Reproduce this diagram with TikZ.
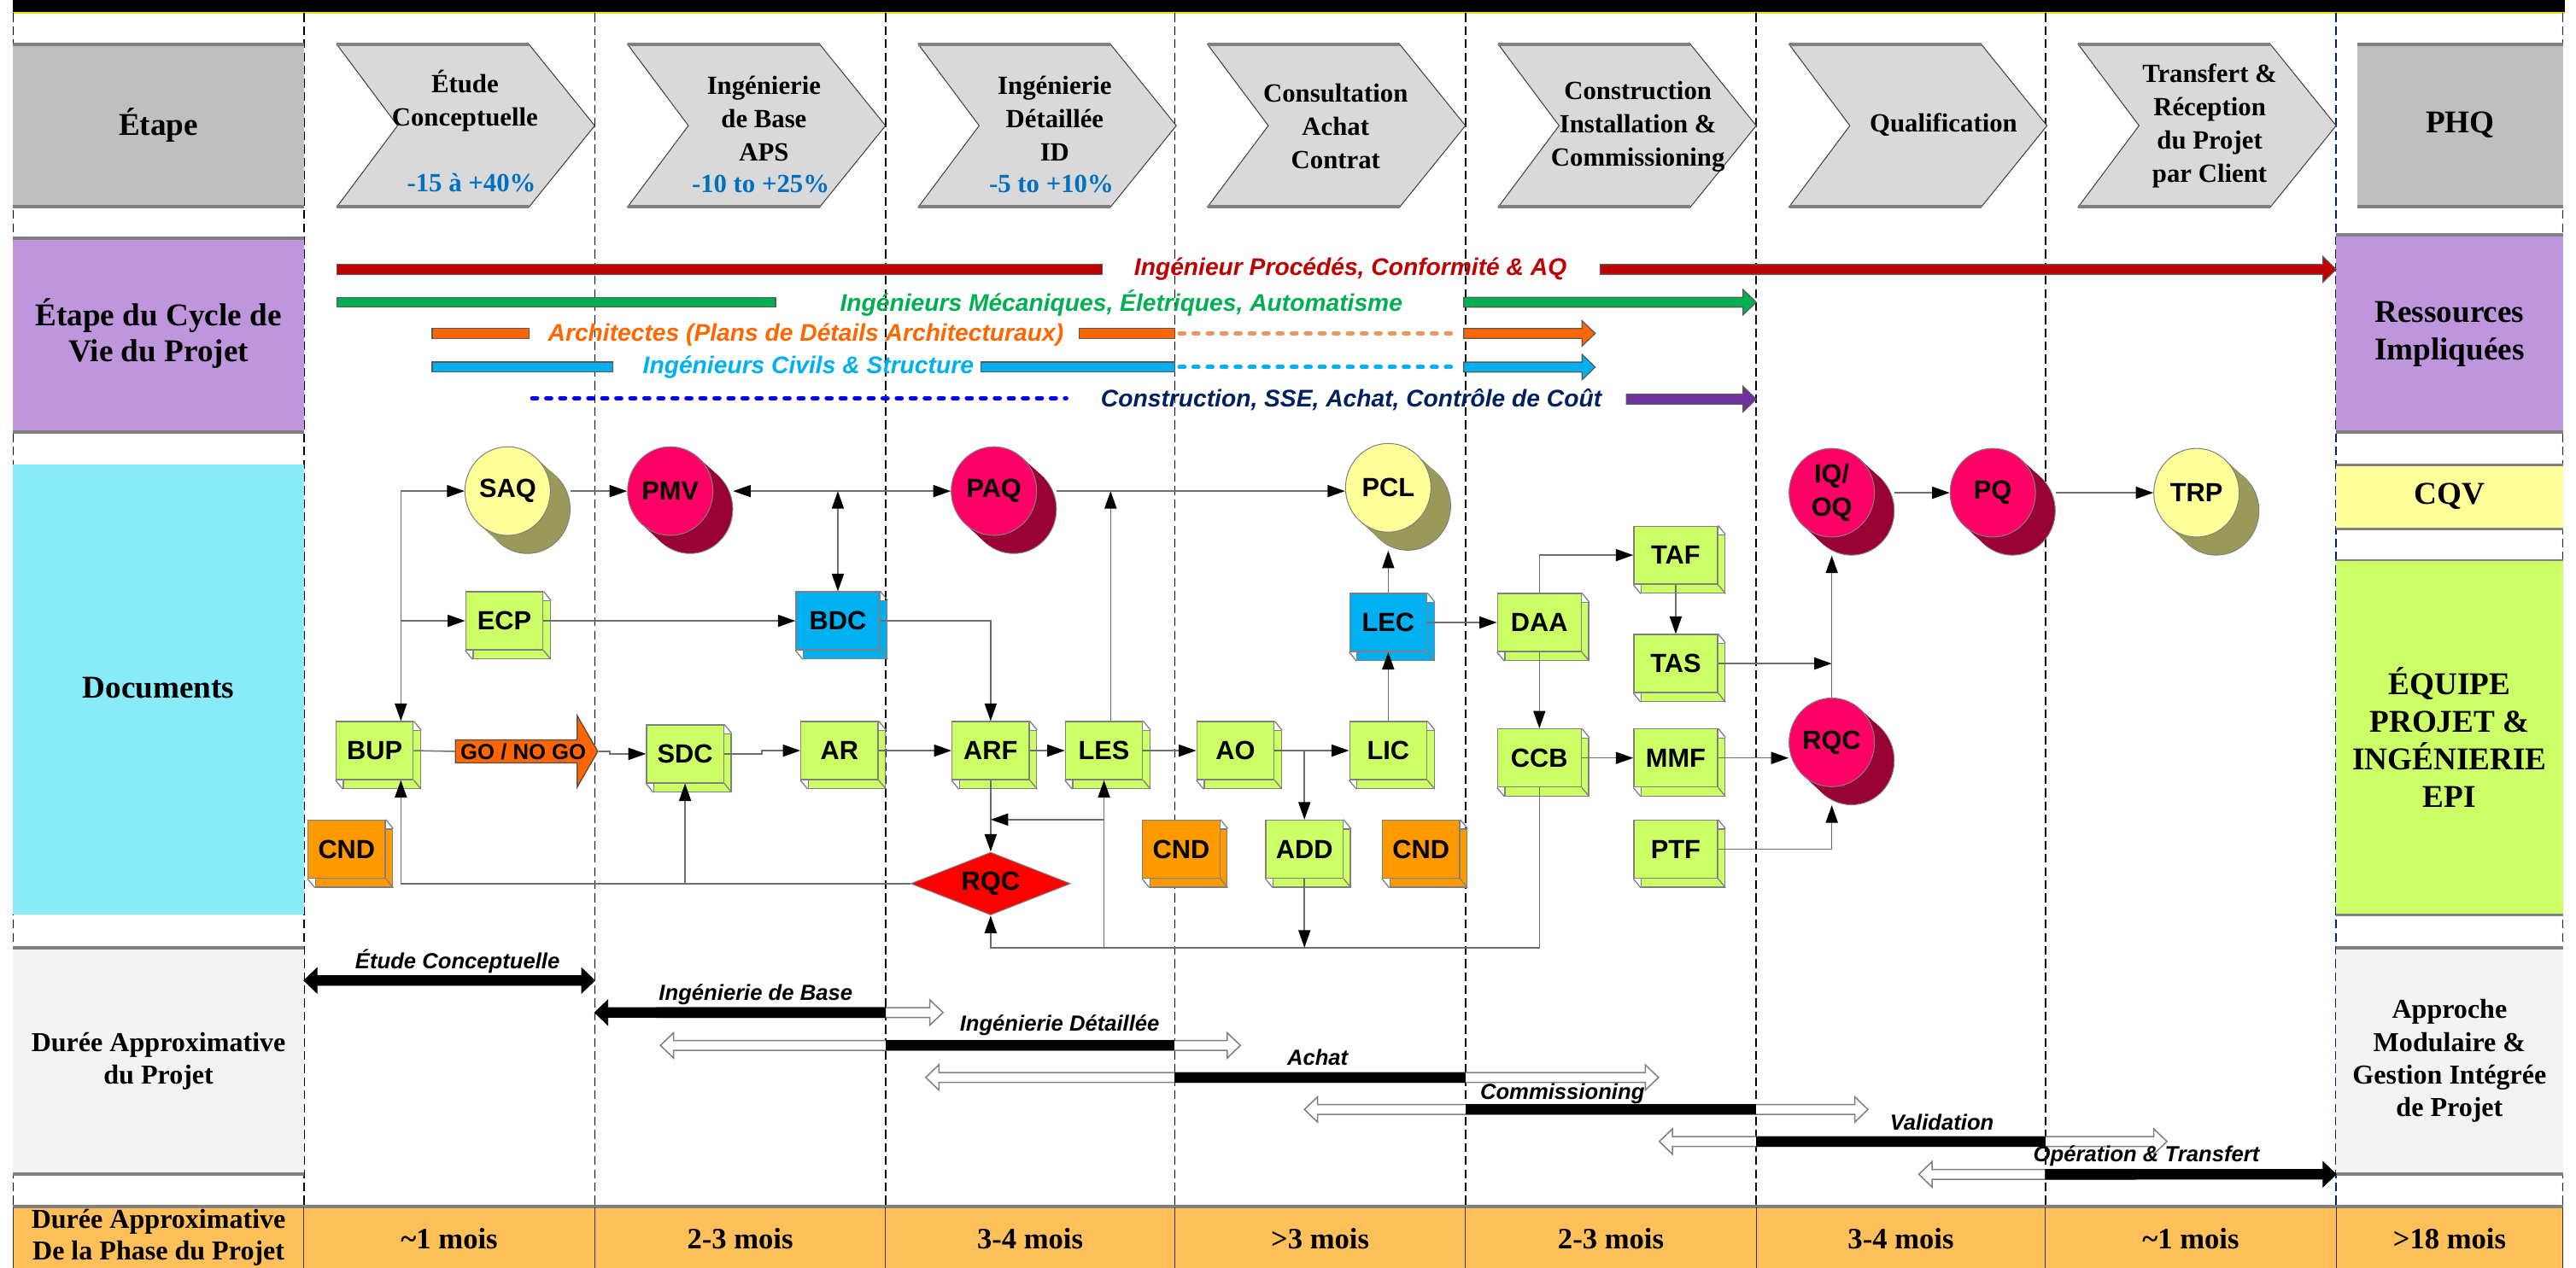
\documentclass[tikz,border=0pt]{standalone}
\usepackage{fontspec}
\setmainfont{Liberation Serif}
\setsansfont{Liberation Sans}
\usetikzlibrary{arrows.meta,shapes.geometric,shapes.arrows}

\definecolor{headgray}{RGB}{191,191,191}
\definecolor{chevgray}{RGB}{217,217,217}
\definecolor{edgegray}{RGB}{128,128,128}
\definecolor{cyclepurple}{RGB}{191,150,222}
\definecolor{doccyan}{RGB}{135,236,247}
\definecolor{cqvyellow}{RGB}{255,255,153}
\definecolor{limebox}{RGB}{204,255,102}
\definecolor{bluebox}{RGB}{0,176,240}
\definecolor{cndorange}{RGB}{255,153,0}
\definecolor{goorange}{RGB}{255,102,0}
\definecolor{ovalred}{RGB}{255,0,102}
\definecolor{ovalwine}{RGB}{153,0,51}
\definecolor{ovalyellow}{RGB}{255,255,153}
\definecolor{ovalolive}{RGB}{153,153,90}
\definecolor{rqcred}{RGB}{255,0,0}
\definecolor{dureegray}{RGB}{242,242,242}
\definecolor{bandorange}{RGB}{255,191,89}
\definecolor{resred}{RGB}{192,0,0}
\definecolor{resgreen}{RGB}{0,176,80}
\definecolor{resorange}{RGB}{255,102,0}
\definecolor{resdots}{RGB}{233,150,95}
\definecolor{rescyan}{RGB}{0,176,240}
\definecolor{resnavy}{RGB}{0,32,96}
\definecolor{resblue}{RGB}{0,0,255}
\definecolor{respurple}{RGB}{112,48,160}
\definecolor{pctblue}{RGB}{0,112,192}
\definecolor{conngray}{RGB}{110,110,110}
\definecolor{boxline}{RGB}{128,128,128}
\definecolor{colnavy}{RGB}{0,32,96}

\tikzset{every picture/.style={line width=0.75pt}}
\tikzset{
  colline/.style={line width=0.6pt, dash pattern=on 4pt off 2pt},
  conn/.style={draw=conngray, line width=0.6pt},
  boxface/.style={rectangle, draw=boxline, line width=0.5pt, fill=limebox, minimum width=35.25pt, minimum height=26.5pt, inner sep=0pt},
  wide/.style={minimum width=38.25pt},
  boxtext/.style={font=\sffamily\bfseries\fontsize{12}{12}\selectfont},
  ovalface/.style={ellipse, draw=boxline, line width=0.4pt, minimum width=39pt, minimum height=40.5pt, inner sep=0pt, align=center, font=\sffamily\bfseries\fontsize{12}{15}\selectfont},
  goarrow/.style={single arrow, draw=black!70, line width=0.5pt, fill=goorange, minimum height=65pt, minimum width=32.5pt, single arrow head extend=8.2pt, single arrow tip angle=120, inner sep=0pt, font=\sffamily\bfseries\fontsize{10}{10}\selectfont},
  rqctext/.style={rectangle, minimum width=72.75pt, minimum height=28.5pt, inner sep=0pt, font=\sffamily\bfseries\fontsize{12}{12}\selectfont},
  hdr/.style={font=\bfseries\fontsize{12}{15.2}\selectfont, align=center, inner sep=0pt},
  pct/.style={font=\bfseries\fontsize{12}{14}\selectfont, text=pctblue, inner sep=0pt},
  rowlabel/.style={font=\bfseries\fontsize{14.5}{17}\selectfont, align=center, inner sep=0pt},
  sidelabel/.style={font=\bfseries\fontsize{12.5}{15}\selectfont, align=center, inner sep=0pt},
  moislabel/.style={font=\bfseries\fontsize{13.5}{15}\selectfont, inner sep=0pt},
  barlabel/.style={font=\sffamily\bfseries\itshape\fontsize{11}{12}\selectfont, inner sep=0pt},
  durlabel/.style={font=\sffamily\bfseries\itshape\fontsize{10}{12}\selectfont, inner sep=0pt},
  resarrow/.style={draw=black!65, line width=0.5pt},
  resdot/.style={line width=2pt, line cap=round, dash pattern=on 2.2pt off 4.2pt},
  whitearrow/.style={fill=white, draw=edgegray, line width=0.6pt},
  blackarrow/.style={fill=black, draw=black, line width=0.3pt},
  thickedge/.style={draw=edgegray, line width=1.5pt}
}

% 3D document box: #2 name, #3 x, #4 y, #5 text
\newcommand{\docbox}[5][]{%
  \node[boxface,#1] (#2-b) at (#3+4.5,#4+5.5) {};
  \node[boxface,boxtext,#1] (#2) at (#3,#4) {#5};
  \draw[boxline, line width=0.5pt] (#2.north east) -- (#2-b.north east) (#2.south west) -- (#2-b.south west) (#2.south east) -- (#2-b.south east);
}
% cylinder-like oval: #1 name, #2 x, #3 y, #4 text, #5 front, #6 back
\newcommand{\docoval}[6]{%
  \node[ovalface, fill=#6] (#1-s) at (#2+12,#3+11) {};
  \foreach \k in {11,10,...,1}
    \fill[#6] (#2+\k,#3+\k*11/12) ellipse [x radius=19.5pt, y radius=20.25pt];
  \node[ovalface, fill=#5] (#1) at (#2,#3) {#4};
}
% block arrows: #1 style, #2 x left, #3 x right, #4 y
\newcommand{\blockR}[4]{\filldraw[#1] (#2,#4-3) -- (#3-8,#4-3) -- (#3-8,#4-7.7) -- (#3,#4) -- (#3-8,#4+7.7) -- (#3-8,#4+3) -- (#2,#4+3) -- cycle;}
\newcommand{\blockL}[4]{\filldraw[#1] (#3,#4-3) -- (#2+8,#4-3) -- (#2+8,#4-7.7) -- (#2,#4) -- (#2+8,#4+7.7) -- (#2+8,#4+3) -- (#3,#4+3) -- cycle;}
\newcommand{\blockLR}[4]{\filldraw[#1] (#2,#4) -- (#2+8,#4-7.7) -- (#2+8,#4-3) -- (#3-8,#4-3) -- (#3-8,#4-7.7) -- (#3,#4) -- (#3-8,#4+7.7) -- (#3-8,#4+3) -- (#2+8,#4+3) -- (#2+8,#4+7.7) -- cycle;}

\begin{document}
\begin{tikzpicture}[x=0.75pt,y=0.75pt,yscale=-1,xscale=1, >={Triangle[length=8pt,width=5.5pt,color=black]}]
\useasboundingbox (0,0) rectangle (1568,772);

%Shape: top bar
\fill[black] (8,-1) rectangle (1561,7.5);
\draw[yellow!90!black, line width=0.5pt] (8,7.8) -- (1561,7.8);

%Straight Lines: column separators
\foreach \x in {8,185,362,539,715,892,1069,1245}
  \draw[colline] (\x,8) -- (\x,734);
\foreach \x in {1422,1560}
  \draw[colline, colnavy] (\x,8) -- (\x,734);

%Shape: header row
\fill[headgray] (8,27) rectangle (185,126);
\draw[thickedge] (8,27) -- (185,27) (8,126) -- (185,126);
\fill[headgray] (1435,27) rectangle (1560,126);
\draw[thickedge] (1435,27) -- (1560,27) (1435,126) -- (1560,126);
\foreach \x in {185,362,539,715,892,1069,1245} {
  \filldraw[fill=chevgray, draw=black!75, line width=0.4pt] (\x+20,27) -- (\x+137,27) -- (\x+177,76.5) -- (\x+137,126) -- (\x+20,126) -- (\x+57,76.5) -- cycle;
  \draw[thickedge] (\x+20,27) -- (\x+137,27) (\x+20,126) -- (\x+137,126);
}

% Text Node
\node[rowlabel] (etape) at (96.5,76) {Étape};
\node[hdr] (stEtude) at (283,61.5) {Étude\\Conceptuelle};
\node[pct] (pctEtude) at (287,111) {-15 à +40\%};
\node[hdr] (stBase) at (465,72) {Ingénierie\\de Base\\APS};
\node[pct] (pctBase) at (463,112) {-10 to +25\%};
\node[hdr] (stDetail) at (642,72) {Ingénierie\\Détaillée\\ID};
\node[pct] (pctDetail) at (640,112) {-5 to +10\%};
\node[hdr] (stConsult) at (813,77) {Consultation\\Achat\\Contrat};
\node[hdr] (stConstr) at (997,77) {Construction\\Installation \&\\Commissioning};
\node[hdr] (stQualif) at (1183,76) {Qualification};
\node[hdr] (stTransf) at (1345,76.5) {Transfert \&\\Réception\\du Projet\\par Client};
\node[rowlabel] (phq) at (1497.5,76) {PHQ};

%Shape: resources row
\fill[cyclepurple] (8,145) rectangle (185,263);
\draw[thickedge] (8,145) -- (185,145) (8,263) -- (185,263);
\fill[cyclepurple] (1422,143) rectangle (1560,263);
\draw[thickedge] (1422,143) -- (1560,143) (1422,263) -- (1560,263);
\node[rowlabel, font=\bfseries\fontsize{14.5}{16.5}\selectfont] (cycle) at (96.5,203) {Étape du Cycle de\\Vie du Projet};
\node[rowlabel] (ressources) at (1491,203.5) {Ressources\\Impliquées};

%Straight Lines: resource bars
\filldraw[fill=resred, resarrow] (205,161) rectangle (671,167);
\blockR{fill=resred, resarrow}{974}{1422}{164}
\filldraw[fill=resgreen, resarrow] (205,181) rectangle (472,187);
\blockR{fill=resgreen, resarrow}{891}{1069}{184}
\filldraw[fill=resorange, resarrow] (263,200) rectangle (322,206);
\filldraw[fill=resorange, resarrow] (657,200) rectangle (715,206);
\draw[resdot, resdots] (718,203) -- (888,203);
\blockR{fill=resorange, resarrow}{891}{971}{203}
\filldraw[fill=rescyan, resarrow] (263,220.5) rectangle (373,226.5);
\filldraw[fill=rescyan, resarrow] (597,220.5) rectangle (715,226.5);
\draw[resdot, rescyan] (718,223.5) -- (888,223.5);
\blockR{fill=rescyan, resarrow}{891}{971}{223.5}
\draw[resdot, resblue] (324,242.5) -- (649,242.5);
\blockR{fill=respurple, resarrow}{990}{1069}{243}

% Text Node
\node[barlabel, text=resred] (lblProc) at (822,164) {Ingénieur Procédés, Conformité \& AQ};
\node[barlabel, text=resgreen] (lblMeca) at (682.5,184.5) {Ingénieurs Mécaniques, Életriques, Automatisme};
\node[barlabel, text=resorange] (lblArch) at (490.5,204) {Architectes (Plans de Détails Architecturaux)};
\node[barlabel, text=rescyan] (lblCivil) at (492,223.5) {Ingénieurs Civils \& Structure};
\node[barlabel, text=resnavy] (lblConst) at (822.5,243.5) {Construction, SSE, Achat, Contrôle de Coût};

%Shape: documents row
\fill[doccyan] (8,283) rectangle (185,557);
\node[rowlabel] (documents) at (96.5,419) {Documents};
\fill[cqvyellow] (1422,283) rectangle (1560,322);
\draw[thickedge, line width=1pt] (1422,283) -- (1560,283) (1422,322) -- (1560,322);
\node[rowlabel] (cqv) at (1491,302) {CQV};
\fill[limebox] (1422,341) rectangle (1560,557);
\draw[thickedge, line width=1pt] (1422,341) -- (1560,341) (1422,557) -- (1560,557);
\node[rowlabel, font=\bfseries\fontsize{14.5}{17.2}\selectfont] (equipe) at (1491,449) {ÉQUIPE\\PROJET \&\\INGÉNIERIE\\EPI};

% ovals
\docoval{SAQ}{309}{299}{SAQ}{ovalyellow}{ovalolive}
\docoval{PMV}{408}{299}{PMV}{ovalred}{ovalwine}
\docoval{PAQ}{605}{299}{PAQ}{ovalred}{ovalwine}
\docoval{PCL}{845}{297}{PCL}{ovalyellow}{ovalolive}
\docoval{IQOQ}{1115}{300}{IQ/\\OQ}{ovalred}{ovalwine}
\docoval{PQ}{1213}{300}{PQ}{ovalred}{ovalwine}
\docoval{TRP}{1337}{300}{TRP}{ovalyellow}{ovalolive}
\docoval{RQC}{1115}{452}{RQC}{ovalred}{ovalwine}

% boxes
\docbox{BUP}{228}{457}{BUP}
\docbox{ECP}{307}{378}{ECP}
\docbox[fill=bluebox, wide]{BDC}{510}{378}{BDC}
\docbox{SDC}{417}{459}{SDC}
\docbox{AR}{511}{457}{AR}
\docbox{ARF}{603}{457}{ARF}
\docbox{LES}{672}{457}{LES}
\docbox[fill=cndorange]{CNDa}{211}{517}{CND}
\docbox{AO}{752}{457}{AO}
\docbox{LIC}{845}{457}{LIC}
\docbox[fill=bluebox]{LEC}{845}{379}{LEC}
\docbox[fill=cndorange]{CNDb}{719}{517}{CND}
\docbox{ADD}{794}{517}{ADD}
\docbox[fill=cndorange]{CNDc}{865}{517}{CND}
\docbox[wide]{DAA}{937}{379}{DAA}
\docbox[wide]{CCB}{937}{461.5}{CCB}
\docbox[wide]{TAF}{1020}{338}{TAF}
\docbox[wide]{TAS}{1020}{404}{TAS}
\docbox[wide]{MMF}{1020}{461.5}{MMF}
\docbox[wide]{PTF}{1020}{517}{PTF}

%Shape: go / no go
\node[goarrow] (GO) at (318.5,457.5) {GO / NO GO};
%Shape: RQC diamond
\filldraw[fill=rqcred, draw=boxline, line width=0.4pt] (603,519) -- (651.5,538) -- (603,557) -- (554.5,538) -- cycle;
\node[rqctext] (RQCd) at (603,538) {RQC};

\coordinate (t0) at (244,299);
\coordinate (lesUp) at (676,299);
\coordinate (fb) at (672,499);
\coordinate (ret) at (603,577);

%Straight Lines: connectors
\draw[conn,->] (t0) -- (t0 |- BUP.north);
\draw[conn,->] (t0) -- (t0 -| SAQ.west);
\draw[conn,->] (t0 |- ECP.west) -- (ECP.west);
\draw[conn,->] (SAQ-s.east |- SAQ.east) -- (PMV.west);
\draw[conn,<->] (PMV-s.east |- PMV.east) -- (PAQ.west);
\draw[conn,<->] (BDC.north |- PMV.east) -- (BDC.north);
\draw[conn,->] (ECP.east) -- (BDC.west);
\draw[conn,->] (BDC.east) -| (ARF.north);
\draw[conn] (BUP.east) -- (GO.west);
\draw[conn,->] (GO.tip) -- ++(7,0) |- (SDC.west);
\draw[conn,->] (SDC.east) -- ++(23,0) |- (AR.west);
\draw[conn,->] (AR.east) -- (ARF.west);
\draw[conn,->] (ARF.east) -- (LES.west);
\draw[conn,->] (lesUp |- LES.north) -- (lesUp);
\draw[conn,->] (PAQ-s.east |- PAQ.east) -- (PAQ.east -| PCL.west);
\draw[conn,->] (ARF.south) -- (RQCd.north);
\draw[conn,->] (fb) -- (fb -| RQCd.north);
\draw[conn,->] (CCB.south) |- (ret) -- (RQCd.south);
\draw[conn,->] (LES.south |- ret) -- (LES.south);
\draw[conn,->] (ADD.south) -- (ADD.south |- ret);
\draw[conn,->] (RQCd.west) -| (t0 |- BUP.south);
\draw[conn,->] (SDC.south |- RQCd.west) -- (SDC.south);
\draw[conn,->] (LES.east) -- (AO.west);
\draw[conn,->] (AO.east) -- (LIC.west);
\draw[conn,->] (ADD.north |- AO.east) -- (ADD.north);
\draw[conn,->] (LIC.north) -- (LEC.south);
\draw[conn,->] (LEC.north) -- (LEC.north |- PCL-s.south);
\draw[conn,->] (LEC.east) -- (DAA.west);
\draw[conn,->] (DAA.north) |- (TAF.west);
\draw[conn,->] (TAF.south) -- (TAS.north);
\draw[conn,->] (DAA.south) -- (CCB.north);
\draw[conn,->] (CCB.east) -- (MMF.west);
\draw[conn,->] (MMF.east) -- (MMF.east -| RQC.west);
\draw[conn,->] (TAS.east) -- (TAS.east -| RQC.north);
\draw[conn,->] (RQC.north) -- (RQC.north |- IQOQ-s.south);
\draw[conn,->] (PTF.east) -| (RQC.south |- RQC-s.south);
\draw[conn,->] (IQOQ-s.east |- IQOQ.east) -- (PQ.west);
\draw[conn,->] (PQ-s.east |- PQ.east) -- (TRP.west);

%Shape: duration row
\fill[dureegray] (8,577) rectangle (185,715);
\draw[thickedge] (8,577) -- (185,577) (8,715) -- (185,715);
\fill[dureegray] (1422,577) rectangle (1560,715);
\draw[thickedge] (1422,577) -- (1560,577) (1422,715) -- (1560,715);
\node[sidelabel] (duree) at (96.5,646) {Durée Approximative\\du Projet};
\node[sidelabel] (approche) at (1491,646) {Approche\\Modulaire \&\\Gestion Intégrée\\de Projet};

%Straight Lines: duration arrows
\blockLR{blackarrow}{185}{362}{597}
\blockR{whitearrow}{400}{574}{616.5}
\blockL{blackarrow}{362}{539}{616.5}
\blockLR{whitearrow}{402}{755}{636.5}
\fill[black] (539,633.3) rectangle (715,639.7);
\blockLR{whitearrow}{563.5}{1009.5}{656}
\fill[black] (715,652.8) rectangle (892,659.2);
\blockLR{whitearrow}{794}{1137}{675.5}
\fill[black] (892,672.3) rectangle (1069,678.7);
\blockLR{whitearrow}{1010}{1319}{695}
\fill[black] (1069,691.8) rectangle (1245,698.2);
\blockL{whitearrow}{1168}{1300}{715}
\blockR{blackarrow}{1245}{1422}{715}

% Text Node
\node[durlabel] (dEtude) at (278.5,585.5) {Étude Conceptuelle};
\node[durlabel] (dBase) at (460,605.5) {Ingénierie de Base};
\node[durlabel] (dDetail) at (645,624.5) {Ingénierie Détaillée};
\node[durlabel] (dAchat) at (802,644) {Achat};
\node[durlabel] (dComm) at (951,666) {Commissioning};
\node[durlabel] (dValid) at (1182,683.5) {Validation};
\node[durlabel] (dOper) at (1306.5,704) {Opération \& Transfert};

%Shape: bottom band
\fill[bandorange] (8,734) rectangle (1560,772);
\draw[thickedge] (8,734.5) -- (1560,734.5);
\foreach \x in {8,185,362,539,715,892,1069,1245,1422,1560}
  \draw[black!80, line width=0.5pt] (\x,735) -- (\x,772);
\node[sidelabel, font=\bfseries\fontsize{12.5}{14.3}\selectfont] (bandLabel) at (96.5,753.5) {Durée Approximative\\De la Phase du Projet};
\node[moislabel] (m1) at (273.5,754) {\textasciitilde 1 mois};
\node[moislabel] (m2) at (450.5,754) {2-3 mois};
\node[moislabel] (m3) at (627,754) {3-4 mois};
\node[moislabel] (m4) at (803.5,754) {>3 mois};
\node[moislabel] (m5) at (980.5,754) {2-3 mois};
\node[moislabel] (m6) at (1157,754) {3-4 mois};
\node[moislabel] (m7) at (1333.5,754) {\textasciitilde 1 mois};
\node[moislabel] (m8) at (1491,754) {>18 mois};

\end{tikzpicture}
\end{document}
